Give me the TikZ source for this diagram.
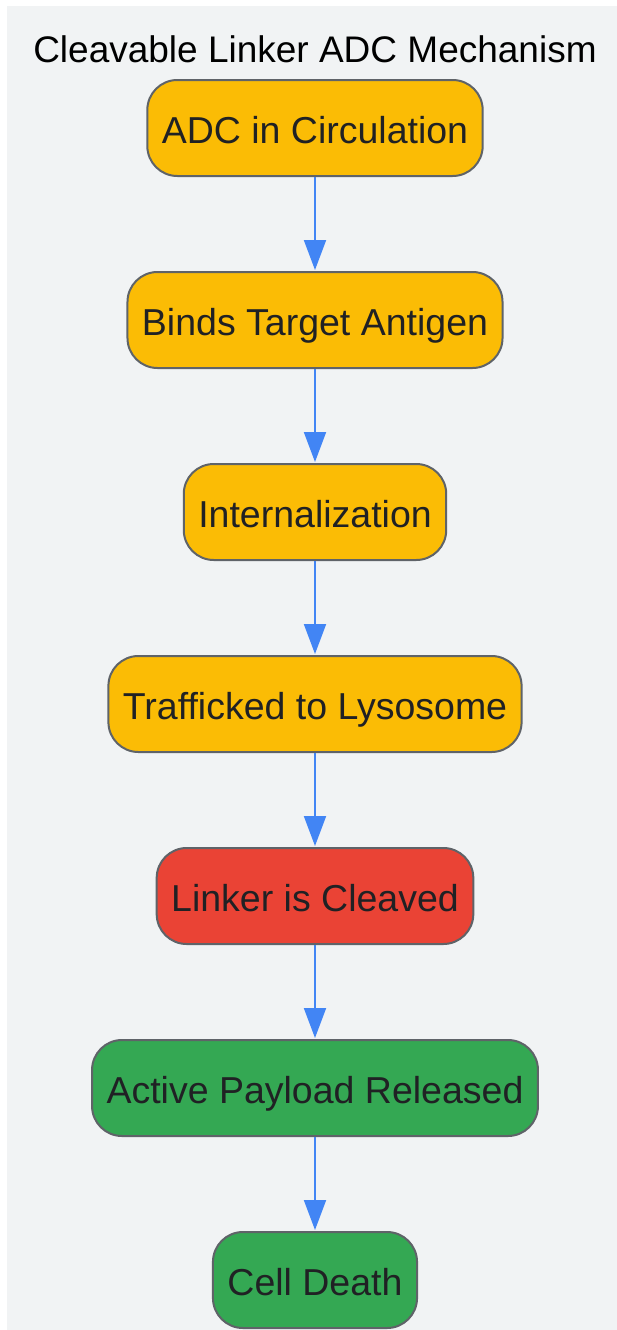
\documentclass[tikz,border=0pt]{standalone}
\usepackage{fontspec}
\setmainfont{Liberation Sans}
\usetikzlibrary{arrows.meta}
\definecolor{bgc}{HTML}{F1F3F4}
\definecolor{yel}{HTML}{FBBC05}
\definecolor{redc}{HTML}{EA4335}
\definecolor{grn}{HTML}{34A853}
\definecolor{bord}{HTML}{5F6368}
\definecolor{arr}{HTML}{4285F4}
\definecolor{txt}{HTML}{202124}
\tikzset{
  stepbox/.style={draw=bord, line width=2pt, rounded corners=30pt, minimum height=96pt, inner xsep=14.5pt, text height=30.6pt, text depth=0pt, text=txt, font=\fontsize{37.5}{44}\selectfont},
  yelbox/.style={stepbox, fill=yel},
  redbox/.style={stepbox, fill=redc},
  grnbox/.style={stepbox, fill=grn},
  flow/.style={draw=arr, line width=2pt, -{Triangle[length=30pt,width=22pt]}, shorten >=1pt}
}
\begin{document}
\begin{tikzpicture}[x=1pt,y=-1pt]
\useasboundingbox (0,0) rectangle (617,1330);
\fill[bgc] (7,6) rectangle (617,1330);
\node[font=\fontsize{37}{44}\selectfont, text=black, text height=31pt, text depth=0pt] (title) at (315,47.5) {Cleavable Linker ADC Mechanism};
\node[yelbox] (a) at (315,128) {ADC in Circulation};
\node[yelbox] (b) at (315,320) {Binds Target Antigen};
\node[yelbox] (c) at (315,512) {Internalization};
\node[yelbox] (d) at (315,704) {Trafficked to Lysosome};
\node[redbox] (e) at (315,896) {Linker is Cleaved};
\node[grnbox] (f) at (315,1088) {Active Payload Released};
\node[grnbox] (g) at (315,1280) {Cell Death};
\draw[flow] (a) -- (b);
\draw[flow] (b) -- (c);
\draw[flow] (c) -- (d);
\draw[flow] (d) -- (e);
\draw[flow] (e) -- (f);
\draw[flow] (f) -- (g);
\end{tikzpicture}
\end{document}
